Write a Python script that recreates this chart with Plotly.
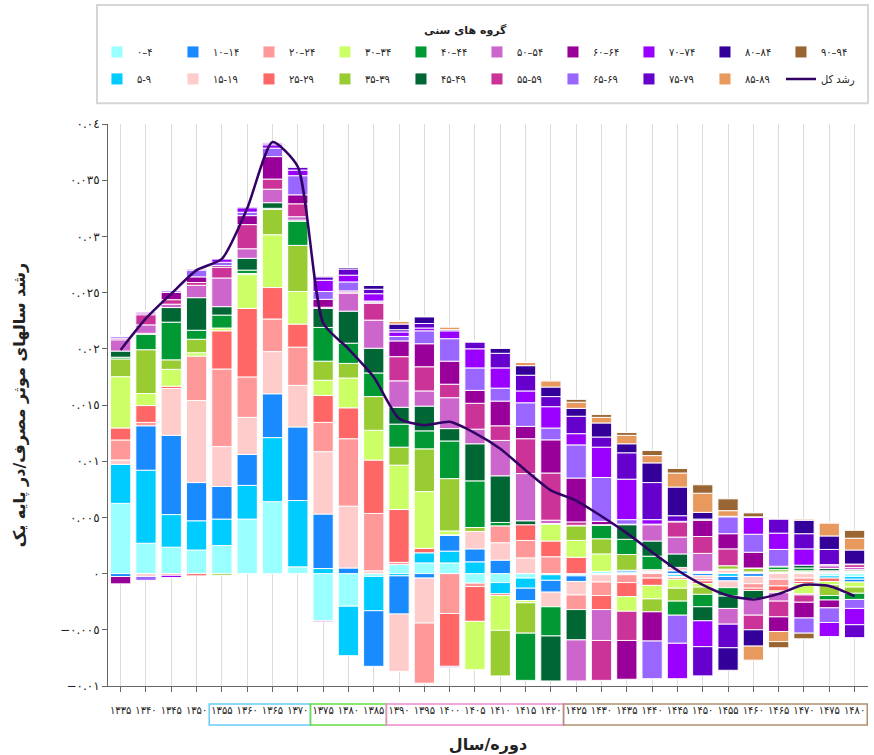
import plotly.graph_objects as go

# ---------------- data ----------------
years = ["۱۳۳۵", "۱۳۴۰", "۱۳۴۵", "۱۳۵۰", "۱۳۵۵", "۱۳۶۰", "۱۳۶۵", "۱۳۷۰", "۱۳۷۵", "۱۳۸۰",
         "۱۳۸۵", "۱۳۹۰", "۱۳۹۵", "۱۴۰۰", "۱۴۰۵", "۱۴۱۰", "۱۴۱۵", "۱۴۲۰", "۱۴۲۵", "۱۴۳۰",
         "۱۴۳۵", "۱۴۴۰", "۱۴۴۵", "۱۴۵۰", "۱۴۵۵", "۱۴۶۰", "۱۴۶۵", "۱۴۷۰", "۱۴۷۵", "۱۴۸۰"]

age_labels = ["۰–۴", "۵-۹", "۱۰–۱۴", "۱۵-۱۹", "۲۰–۲۴", "۲۵-۲۹", "۳۰–۳۴", "۳۵-۳۹", "۴۰–۴۴", "۴۵-۴۹",
              "۵۰–۵۴", "۵۵-۵۹", "۶۰–۶۴", "۶۵-۶۹", "۷۰–۷۴", "۷۵-۷۹", "۸۰–۸۴", "۸۵-۸۹", "۹۰–۹۴"]

age_colors = ["#99FFFF", "#00CCFF", "#1A8AFF", "#FFCCCC", "#FF9999", "#FF6666", "#CCFF66", "#99CC33",
              "#009933", "#006633", "#CC66CC", "#CC3399", "#990099", "#9966FF", "#9900FF", "#6600CC",
              "#330099", "#E8995E", "#996633"]

g00_04 = [0.00625, 0.0027, 0.00235, 0.0021, 0.0025, 0.00485, 0.0064, 0.0006, -0.0042, -0.0029,
          -0.00025, 0.0008, 0.00095, 0.00095, -0.00085, -0.0008, -0.0004, -0.0001, -0.0001, 0.0002,
          0.00005, 0.00005, -0.0001, 0.0001, 0.00005, 0.00005, 0.00005, 0.00005, -0.0002, -0.00025]
g05_09 = [0.00346, 0.0065, 0.0029, 0.0026, 0.00235, 0.003, 0.0057, 0.0059, 0.00045, -0.0044,
          -0.00305, -0.0002, 0.0009, 0.00105, 0.00105, -0.001, -0.0009, -0.0005, -0.0001, -0.00005,
          0.0001, 0.00005, -0.00015, 0.0001, -0.00025, 0.00005, 0.00005, 0.00005, -0.0002, -0.00025]
g10_14 = [-0.00026, 0.00395, 0.00705, 0.0034, 0.0029, 0.00275, 0.0039, 0.00655, 0.00485, 0.0005,
          -0.00495, -0.0034, -0.0004, 0.0014, 0.00115, 0.0012, -0.0011, -0.00105, -0.0005, -0.00005,
          0.00015, 0.0001, 0.00025, -0.0002, -0.0004, -0.00025, 0.00005, 0.00005, 0.00005, -0.00025]
g15_19 = [0.0004, -0.00025, 0.00417, 0.0073, 0.00355, 0.0033, 0.00375, 0.0037, 0.00555, 0.0055,
          0.00025, -0.0051, -0.004, 0.00005, 0.00155, 0.00155, 0.0014, -0.0013, -0.0012, -0.00065,
          -0.0001, 0.00015, 0.0003, -0.00025, -0.0006, -0.00065, -0.0005, -0.0004, 0.0001, 0.0001]
g20_24 = [0.00178, 0.0003, -0.00015, 0.00395, 0.0069, 0.0036, 0.0029, 0.0034, 0.0026, 0.006,
          0.0051, 0.0002, -0.00535, -0.00355, -0.0003, 0.0015, 0.00155, 0.0015, -0.0013, -0.0012,
          -0.0007, -0.0004, -0.0001, -0.0002, 0.0001, -0.0004, -0.0006, -0.0003, 0.0001, 0.0001]
g25_29 = [0.00107, 0.0015, 0.0002, -0.0002, 0.0034, 0.0061, 0.0028, 0.00205, 0.0024, 0.00275,
          0.00475, 0.0047, 0.0004, -0.0047, -0.0031, -0.00015, 0.0014, 0.0014, 0.00145, -0.00125,
          -0.00125, -0.00065, -0.00015, -0.00025, 0.00015, -0.0002, -0.00045, -0.0002, -0.0003, 0.00005]
g30_34 = [0.00456, 0.00107, 0.0015, 0.0003, 0.00025, 0.003, 0.0047, 0.0029, 0.00135, 0.00265,
          0.00265, 0.00395, 0.00505, 0.00035, -0.0043, -0.0031, -0.0002, 0.0015, 0.0015, 0.00155,
          -0.0013, -0.0012, -0.0008, -0.0003, 0.0001, 0.00005, -0.00015, -0.0009, -0.0003, -0.00045]
g35_39 = [0.00158, 0.0039, 0.00085, 0.0012, -0.00015, 0.0001, 0.00225, 0.0041, 0.0017, 0.0013,
          0.003, 0.0016, 0.0038, 0.00465, 0.00035, -0.00405, -0.0027, 0.00005, 0.0013, 0.00135,
          0.0014, -0.00115, -0.00115, -0.00065, 0.0003, 0.0003, 0.0002, 0.0001, -0.00095, -0.00055]
g40_44 = [0.00015, 0.00136, 0.00335, 0.0008, 0.00115, 0.0003, 0.0001, 0.00215, 0.003, 0.0018,
          0.0021, 0.00205, 0.0016, 0.00335, 0.00415, 0.0003, -0.0042, -0.0026, 0.00005, 0.0012,
          0.00135, 0.0012, -0.00125, -0.0011, -0.00075, 0.00005, 0.00025, 0.00025, -0.0004, -0.00055]
g45_49 = [0.00055, 0.0001, 0.0013, 0.0029, 0.00075, 0.00105, 0.0005, 0.0001, 0.0017, 0.00285,
          0.0022, 0.0015, 0.0022, 0.0011, 0.0033, 0.00415, 0.00035, -0.004, -0.0027, 0.00005,
          0.0013, 0.00135, 0.0012, -0.00125, -0.0011, -0.00075, 0.00005, 0.00025, 0.0002, 0.0001]
g50_54 = [0.001, 0.00075, 0.0003, 0.0011, 0.00255, 0.00085, 0.0012, 0.0003, -0.0001, 0.0016,
          0.0025, 0.00235, 0.00135, 0.00275, 0.0013, 0.00315, 0.0042, 0.0003, -0.00365, -0.00275,
          0.00005, 0.00145, 0.0015, 0.0016, -0.0014, -0.00145, -0.00075, -0.0001, 0.00025, 0.0002]
g55_59 = [0.00015, 0.0009, 0.0004, 0.00025, 0.00095, 0.00215, 0.0009, 0.00115, 0.0001, 0.0001,
          0.0015, 0.00215, 0.00215, 0.0012, 0.0023, 0.0013, 0.0031, 0.0042, 0.0003, -0.00355,
          -0.0026, 0.00005, 0.00135, 0.0015, 0.0015, -0.0013, -0.0014, -0.00065, 0.0001, 0.00025]
g60_64 = [-0.00065, 0.00015, 0.00065, 0.0005, 0.00015, 0.0008, 0.002, 0.0008, 0.0007, 0.0001,
          0.0001, 0.0014, 0.00205, 0.00205, 0.00115, 0.0022, 0.0011, 0.00295, 0.0039, 0.0003,
          -0.00345, -0.0026, 0.00005, 0.00145, 0.00135, 0.0014, -0.0013, -0.0014, -0.0007, 0.00005]
g65_69 = [0.00015, -0.00035, 0.00015, 0.0006, 0.0003, 0.0003, 0.00075, 0.0017, 0.0007, 0.0008,
          0.0001, 0.0004, 0.00115, 0.002, 0.002, 0.00115, 0.0021, 0.00105, 0.00295, 0.0039,
          0.0004, -0.00335, -0.0025, 0.0001, 0.0015, 0.0016, 0.0015, -0.00135, -0.0013, -0.0008]
g70_74 = [0.00005, 0.0001, -0.0002, 0.0001, 0.0003, 0.0004, 0.0003, 0.0005, 0.001, 0.0006,
          0.00065, 0.0004, 0.00025, 0.0007, 0.0017, 0.0018, 0.00105, 0.0019, 0.001, 0.0027,
          0.0036, 0.0004, -0.00315, -0.0023, 0.00005, 0.0015, 0.00145, 0.00145, -0.00125, -0.00145]
g75_79 = [0.00002, 0.00005, 0.00008, 0.00005, 0.00005, 0.0001, 0.00015, 0.00025, 0.0003, 0.00055,
          0.0004, 0.0002, 0.0004, -0.00008, 0.0006, 0.0013, 0.0014, 0.0009, 0.00155, 0.0009,
          0.00235, 0.0033, 0.0005, -0.0026, -0.0021, 0.00005, 0.00125, 0.00135, 0.00135, -0.00115]
g80_84 = [0.0, 0.0, 0.0, 0.0, 0.0, 0.00005, 0.0001, 0.0001, 0.0001, 0.00015,
          0.00035, 0.0005, 0.0006, 0.0001, 0.00005, 0.00045, 0.00085, 0.00085, 0.0007, 0.00125,
          0.0008, 0.00175, 0.00255, 0.0006, -0.002, -0.00145, 0.00005, 0.0012, 0.0012, 0.00125]
g85_89 = [0.0, 0.0, 0.0, 0.0, 0.0, 0.0, 0.0, 0.0, 0.0, 0.0,
          0.0, 0.00025, 0.00005, 0.00025, 0.00005, 0.00005, 0.0003, 0.00055, 0.00055, 0.0005,
          0.00075, 0.00065, 0.00125, 0.0017, 0.0005, -0.00125, -0.0009, 0.0001, 0.00115, 0.00105]
g90_94 = [0.0, 0.0, 0.0, 0.0, 0.0, 0.0, 0.0, 0.0, 0.0, 0.0,
          0.0, 0.0, 0.0, 0.0, 0.0, 0.0, 0.0, 0.00005, 0.00025, 0.00025,
          0.00025, 0.00045, 0.0004, 0.00075, 0.00105, 0.00035, -0.00055, -0.0005, 0.00005, 0.0007]

total_growth = [0.0199, 0.0227, 0.0249, 0.0270, 0.0280, 0.0325, 0.0384, 0.0362, 0.0223, 0.0200,
                0.0175, 0.0138, 0.0132, 0.0135, 0.0125, 0.0111, 0.0092, 0.0074, 0.0065, 0.0051,
                0.0036, 0.0019, 0.0003, -0.0010, -0.00195, -0.0023, -0.0018, -0.0010, -0.0011, -0.0020]
total_label = "رشد کل"
total_color = "#330066"

y_tickvals = [-0.01, -0.005, 0, 0.005, 0.01, 0.015, 0.02, 0.025, 0.03, 0.035, 0.04]
y_ticktext = ["−٠.٠١", "−٠.٠٠٥", "٠", "٠.٠٠٥", "٠.٠١", "٠.٠١٥", "٠.٠٢", "٠.٠٢٥", "٠.٠٣", "٠.٠٣٥", "٠.٠٤"]

period_bounds = [(3.5, 7.5), (7.5, 10.5), (10.5, 17.5), (17.5, 29.5)]
period_colors = ["#66CCF5", "#66DD44", "#EE88CC", "#B09070"]

legend_title = "گروه های سنی"
x_title = "دوره/سال"
y_title = "رشد سالهای موثر مصرف/در پایه یک"

series = [g00_04, g05_09, g10_14, g15_19, g20_24, g25_29, g30_34, g35_39, g40_44, g45_49,
          g50_54, g55_59, g60_64, g65_69, g70_74, g75_79, g80_84, g85_89, g90_94]

FONT_C = "DejaVu Sans Condensed, DejaVu Sans"
FONT = "DejaVu Sans"

fig = go.Figure()
for i, (lab, col, vals) in enumerate(zip(age_labels, age_colors, series)):
    fig.add_trace(go.Bar(
        x=years, y=vals, name=lab,
        marker=dict(color=col, line=dict(color="rgba(255,255,255,0.95)", width=1)),
        legend="legend" if i % 2 == 0 else "legend2",
        hovertemplate=lab + ": %{y}<extra></extra>",
    ))

fig.add_trace(go.Scatter(
    x=years, y=total_growth, name=total_label, mode="lines",
    line=dict(color=total_color, width=2.5, shape="spline", smoothing=0.6),
    legend="legend2",
))

legend_common = dict(
    orientation="h", xanchor="left", yanchor="top", x=-0.0145,
    bgcolor="rgba(0,0,0,0)", borderwidth=0,
    entrywidth=31, entrywidthmode="pixels",
    font=dict(family=FONT_C, size=11, color="#222"),
)

fig.update_layout(
    width=874, height=755,
    margin=dict(l=108, r=6, t=124, b=69, autoexpand=False),
    paper_bgcolor="white", plot_bgcolor="white",
    barmode="relative", bargap=0.2,
    font=dict(family=FONT, size=11, color="#222"),
    legend=dict(y=1.154, **legend_common),
    legend2=dict(y=1.106, **legend_common),
    xaxis=dict(
        type="category", showgrid=True, gridcolor="#dcdcdc", gridwidth=1,
        showline=True, linecolor="#666", linewidth=1,
        ticks="outside", ticklen=5, tickcolor="#666", tickangle=0,
        ticklabelstandoff=9, automargin=False,
        tickfont=dict(family=FONT_C, size=11, color="#222"),
        title=dict(text="<b>" + x_title + "</b>", font=dict(family=FONT, size=16, color="#222"), standoff=22),
    ),
    yaxis=dict(
        range=[-0.01, 0.04], showgrid=False, zeroline=False,
        showline=True, linecolor="#666", linewidth=1,
        ticks="outside", ticklen=5, tickcolor="#666", automargin=False,
        tickvals=y_tickvals, ticktext=y_ticktext,
        tickfont=dict(family=FONT, size=12, color="#222"),
        title=dict(text="<b>" + y_title + "</b>", font=dict(family=FONT, size=16, color="#222"), standoff=30),
    ),
)

# legend frame and title
fig.add_shape(type="rect", xref="paper", yref="paper", x0=-0.0145, x1=1.0, y0=1.037, y1=1.2117,
              line=dict(color="#d6d6d6", width=2), fillcolor="rgba(0,0,0,0)", layer="below")
fig.add_annotation(text="<b>" + legend_title + "</b>", xref="paper", yref="paper", x=0.47, y=1.167,
                   yanchor="middle", showarrow=False, font=dict(family=FONT, size=11, color="#222"))

# period boxes around the tick labels
for (a, b), c in zip(period_bounds, period_colors):
    fig.add_shape(type="rect", xref="x", yref="paper", x0=a, x1=b, y0=-0.0694, y1=-0.032,
                  line=dict(color=c, width=1.5), fillcolor="rgba(0,0,0,0)")

fig.write_html("out.html", config={"displayModeBar": False},
               post_script="document.body.style.margin='0';")
